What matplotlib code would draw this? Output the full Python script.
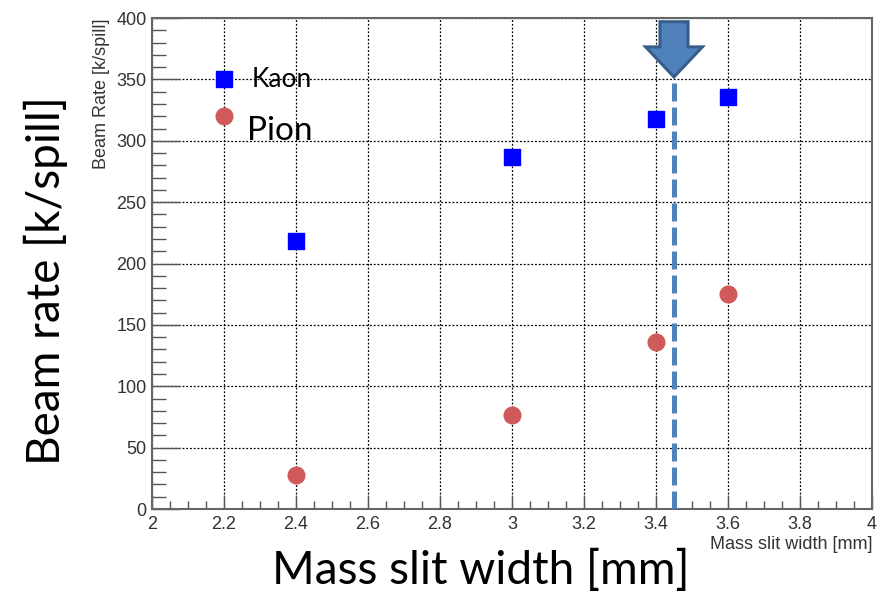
import numpy as np
import matplotlib
matplotlib.use('Agg')
import matplotlib.pyplot as plt
from matplotlib.patches import FancyArrow
from matplotlib.ticker import MultipleLocator

# data
slit_width = [2.4, 3.0, 3.4, 3.6]
kaon_rate = [218, 287, 318, 336]
pion_rate = [28, 77, 136, 175]

legend_x = 2.2
legend_kaon_y = 350
legend_pion_y = 320
chosen_width = 3.45

kaon_color = '#0000ff'
pion_color = '#d05a5a'
arrow_color = '#4f81bd'

fig = plt.figure(figsize=(8.77, 5.91), dpi=100)
ax = fig.add_axes([0.1733, 0.1387, 0.8210, 0.8308])

ax.set_xlim(2, 4)
ax.set_ylim(0, 400)

ax.grid(True, which='major', color='black', linestyle=(0, (1.5, 1.5)), linewidth=0.9)
ax.set_axisbelow(True)

ax.scatter(slit_width, kaon_rate, marker='s', s=11.5**2, color=kaon_color, zorder=3)
ax.scatter(slit_width, pion_rate, marker='o', s=12**2, color=pion_color, zorder=3)

# hand-made legend
ax.scatter([legend_x], [legend_kaon_y], marker='s', s=11.5**2, color=kaon_color, zorder=3)
ax.scatter([legend_x], [legend_pion_y], marker='o', s=12**2, color=pion_color, zorder=3)
ax.text(2.276, 343.5, 'Kaon', fontsize=19, family='Lato',
        va='baseline', ha='left', color='black')
ax.text(2.265, 300.5, 'Pion', fontsize=24, family='Lato',
        va='baseline', ha='left', color='black')

# chosen slit width marker
ax.plot([chosen_width, chosen_width], [0, 352], color=arrow_color, linewidth=3.6,
        linestyle=(0, (3.6, 1.2)), solid_capstyle='butt', zorder=4)
arr = FancyArrow(chosen_width, 397, 0, -45, width=0.078, head_width=0.158,
                 head_length=24.5, length_includes_head=True,
                 facecolor=arrow_color, edgecolor='#385d8a', linewidth=2.2, zorder=5)
ax.add_patch(arr)

# ROOT-like ticks
ax.xaxis.set_major_locator(MultipleLocator(0.2))
ax.xaxis.set_minor_locator(MultipleLocator(0.05))
ax.yaxis.set_major_locator(MultipleLocator(50))
ax.yaxis.set_minor_locator(MultipleLocator(10))
ax.set_xticks(np.arange(2, 4.01, 0.2))
ax.set_xticklabels(['2', '2.2', '2.4', '2.6', '2.8', '3', '3.2', '3.4', '3.6', '3.8', '4'])
ax.tick_params(axis='x', which='major', direction='in', length=10, width=1, color='#555555',
               labelsize=13, labelcolor='#333333', pad=5)
ax.tick_params(axis='x', which='minor', direction='in', length=6, width=1, color='#555555')
ax.tick_params(axis='y', which='major', direction='in', length=20, width=1, color='#555555',
               labelsize=13, labelcolor='#333333', pad=4)
ax.tick_params(axis='y', which='minor', direction='in', length=10, width=1, color='#555555')
for lab in ax.get_xticklabels() + ax.get_yticklabels():
    lab.set_family('Liberation Sans')

for s in ax.spines.values():
    s.set_color('#666666')
    s.set_linewidth(1.5)

# small ROOT axis titles
ax.text(1.0, -0.055, 'Mass slit width [mm]', transform=ax.transAxes, ha='right', va='top',
        fontsize=13, family='Liberation Sans', color='#333333')
ax.text(-0.070, 1.0, 'Beam Rate [k/spill]', transform=ax.transAxes, ha='center', va='top',
        rotation=90, fontsize=13, family='Liberation Sans', color='#333333')

# large slide labels
fig.text(0.5485, 0.011, 'Mass slit width [mm]', ha='center', va='baseline',
         fontsize=33, family='Lato', color='black')
fig.text(0.052, 0.526, 'Beam rate [k/spill]', ha='center', va='center', rotation=90,
         fontsize=33, family='Lato', color='black')

fig.savefig('out.png', dpi=100)
